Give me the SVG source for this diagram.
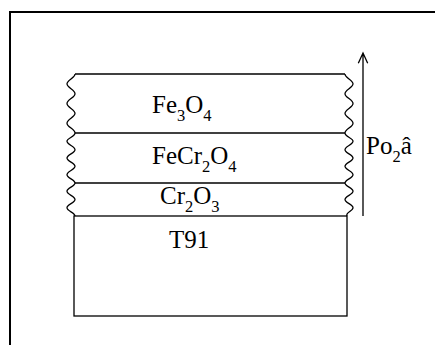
<svg xmlns="http://www.w3.org/2000/svg" width="435" height="345" viewBox="0 0 435 345">
<style>
.ln{fill:none;stroke:#000;stroke-width:1.3}
text{font-family:'Liberation Serif','Times New Roman',serif;font-size:25px;fill:#000}
.s{font-size:16.5px}
</style>
<rect width="435" height="345" fill="#fff"/>
<g id="frame"><path d="M10 345 V12 H435" fill="none" stroke="#000" stroke-width="2"/></g>
<g id="edges">
<path class="ln" d="M75 74 C75 77.9 67 79.9 67 83.8 S75 89.8 75 93.7 S67 99.6 67 103.5 S75 109.4 75 113.3 S67 119.3 67 123.2 S75 129.1 75 133 S67 138 67 141.3 S75 146.4 75 149.7 S67 154.7 67 158 S75 163 75 166.3 S67 171.4 67 174.7 S75 179.7 75 183 S67 188 67 191.25 S75 196.2 75 199.5 S67 204.5 67 207.75 S75 212.7 75 216"/>
<path class="ln" d="M345 74 C345 77.9 353 79.9 353 83.8 S345 89.8 345 93.7 S353 99.6 353 103.5 S345 109.4 345 113.3 S353 119.3 353 123.2 S345 129.1 345 133 S353 138 353 141.3 S345 146.4 345 149.7 S353 154.7 353 158 S345 163 345 166.3 S353 171.4 353 174.7 S345 179.7 345 183 S353 188 353 191.25 S345 196.2 345 199.5 S353 204.5 353 207.75 S345 212.7 347 216"/>
</g>
<g id="fe3o4">
<path class="ln" d="M75 74 H345"/>
<text x="152" y="113">Fe<tspan class="s" dy="8">3</tspan><tspan dy="-8">O</tspan><tspan class="s" dy="8">4</tspan></text>
</g>
<g id="fecr2o4">
<path class="ln" d="M75 133 H345"/>
<text x="152" y="164">FeCr<tspan class="s" dy="8">2</tspan><tspan dy="-8">O</tspan><tspan class="s" dy="8">4</tspan></text>
</g>
<g id="cr2o3">
<path class="ln" d="M75 183 H345"/>
<text x="160" y="204">Cr<tspan class="s" dy="8">2</tspan><tspan dy="-8">O</tspan><tspan class="s" dy="8">3</tspan></text>
</g>
<g id="t91">
<rect class="ln" x="74" y="216" width="273" height="100"/>
<text x="169" y="248">T91</text>
</g>
<g id="connectors">
<path class="ln" d="M363 216 V53 M358.3 63.3 L363 53 L367.7 63.3"/>
</g>
<g id="po2">
<text x="366" y="154">Po<tspan class="s" dy="8">2</tspan><tspan dy="-8">â</tspan></text>
</g>
</svg>
